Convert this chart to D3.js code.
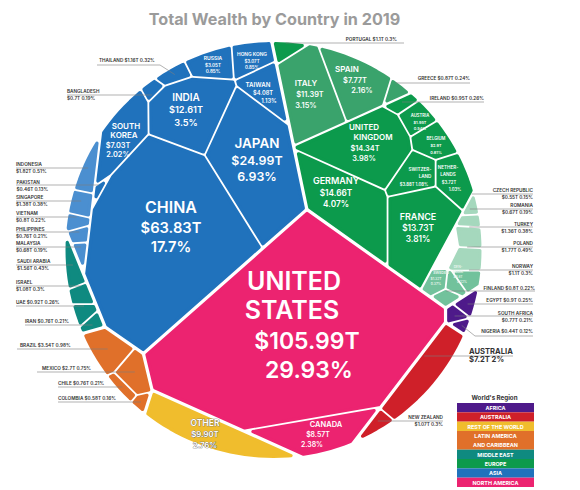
<!DOCTYPE html>
<html><head><meta charset="utf-8">
<script src="https://cdnjs.cloudflare.com/ajax/libs/d3/7.8.5/d3.min.js"></script>
<style>html,body{margin:0;background:#fff}svg{display:block;font-family:Inter,"Open Sans",sans-serif}</style>
</head><body><svg id="c" width="580" height="490"></svg>
<script>
const titleText = "Total Wealth by Country in 2019";
const regions = ["AFRICA","AUSTRALIA","REST OF THE WORLD","LATIN AMERICA|AND CARIBBEAN","MIDDLE EAST","EUROPE","ASIA","NORTH AMERICA"];
const regionColors = ["#4e1a8a","#cf2029","#f0bd2d","#e0702a","#0f8a80","#0c9a4c","#2072bc","#ec2370"];
const countries = ["United States","Canada","China","Japan","India","South Korea","Taiwan","Russia","Hong Kong","Thailand","Bangladesh","Indonesia","Pakistan","Singapore","Vietnam","Philippines","Malaysia","Saudi Arabia","Israel","UAE","Iran","Brazil","Mexico","Chile","Colombia","Other","New Zealand","Australia","Nigeria","South Africa","Egypt","Germany","United Kingdom","France","Italy","Spain","Portugal","Greece","Ireland","Austria","Belgium","Switzerland","Netherlands","Czech Republic","Romania","Turkey","Poland","Norway","Sweden","Denmark","Finland"];
const wealth = [105.99,8.57,63.83,24.99,12.61,7.03,4.08,3.05,3.07,1.16,0.7,1.82,0.46,1.38,0.8,0.76,0.68,1.56,1.08,0.92,0.76,3.54,2.7,0.76,0.58,9.9,1.07,7.2,0.44,0.77,0.9,14.66,14.34,13.73,11.39,7.77,1.1,0.87,0.95,1.95,2.9,3.88,3.72,0.55,0.67,1.36,1.77,1.1,1.32,0.8,0.8];
const regionOf = [7,7,6,6,6,6,6,6,6,6,6,6,6,6,6,6,6,4,4,4,4,3,3,3,3,2,1,1,0,0,0,5,5,5,5,5,5,5,5,5,5,5,5,5,5,5,5,5,5,5,5];
const subgroup = [0,0,0,0,0,0,0,0,0,0,0,1,0,1,1,1,1,0,0,0,0,0,0,0,0,0,0,0,0,0,0,0,0,0,2,2,2,2,0,0,0,0,0,1,1,1,1,1,1,1,1];
const shades = [7,7,6,6,6,6,6,6,6,6,6,"#4b8fd0",6,"#4b8fd0","#4b8fd0","#4b8fd0","#4b8fd0",4,4,4,4,3,3,3,3,2,1,1,0,0,0,5,5,5,"#3aa36c","#3aa36c",5,"#3aa36c",5,5,5,5,5,"#a5d8bd","#a5d8bd","#a5d8bd","#a5d8bd","#72c29c","#72c29c","#72c29c","#72c29c"];
// layout hints: power-diagram sites, same order as countries
const siteX = [290,310,152,245,184,60,290,190,262,160,140,88,98,82,78,81,82,73,83,83,92,108,135,123,141,207,382,425,461,458,468,345,372,425,312,352,285,394,405,425,437,419,450,469,470,469,468,468,440,458,450];
const siteY = [315,430,228,170,142,143,110,55,50,70,98,170,198,200,218,229,247,267,293,313,323,350,373,385,400,435,420,368,325,313,300,215,155,215,90,75,47,88,95,125,145,187,187,195,211,227,247,268,273,275,293];
const regionSiteX = [467,403,233,82,55,376,185,275];
const regionSiteY = [292,390,386,338,243,150,190,292];
const subSites = {"6-0":[190,165],"6-1":[90,153],"5-0":[385,165],"5-1":[450,200],"5-2":[340,65]};
// white pocket left empty between France and the light-green cells
const emptyPocket = {key:"5-1",x:438,y:232,v:1.3};
// inner labels: country index, lines, centre x per line, first baseline, size, line step
const inner = [
 [0,["UNITED","STATES","$105.99T","29.93%"],[294,292,307,309],290,25,29.3,"#fff"],
 [2,["CHINA","$63.83T","17.7%"],[171,171,171],213,16,19.5,"#fff"],
 [3,["JAPAN","$24.99T","6.93%"],[257,257,257],148,13.5,16.5,"#fff"],
 [4,["INDIA","$12.61T","3.5%"],[186,186,186],101,10,12.4,"#fff"],
 [5,["SOUTH","KOREA","$7.03T","2.02%"],[126,124,118,118],129,8,9.4,"#fff"],
 [6,["TAIWAN","$4.08T","1.13%"],[258,263,269],87,6.2,8,"#fff"],
 [7,["RUSSIA","$3.05T","0.85%"],[213,213,213],60,5,6.6,"#fff"],
 [8,["HONG KONG","$3.07T","0.85%"],[252,252,252],56,4.8,6.6,"#fff"],
 [34,["ITALY","$11.39T","3.15%"],[306,310,306],86,8,11,"#fff"],
 [35,["SPAIN","$7.77T","2.16%"],[347,355,362],72,8,10.5,"#fff"],
 [32,["UNITED","KINGDOM","$14.34T","3.98%"],[364,373,365,364],130,8,10.4,"#fff"],
 [31,["GERMANY","$14.66T","4.07%"],[336,336,336],184,9,11.5,"#fff"],
 [33,["FRANCE","$13.73T","3.81%"],[418,418,418],220,9,11,"#fff"],
 [39,["AUSTRIA","$1.95T","0.54%"],[420,420,420],117,4.2,6.6,"#fff"],
 [40,["BELGIUM","$2.9T","0.81%"],[436,436,436],140,4.2,7,"#fff"],
 [41,["SWITZER-","LAND","$3.88T 1.08%"],[420,425,414],171,4.6,7.3,"#fff"],
 [42,["NETHER-","LANDS","$3.72T","1.03%"],[448,448,449,455],169,4.6,7.3,"#fff"],
 [48,["SWEDEN","$1.32T","0.37%"],[441,436,436],274,3.6,5.5,"#e8f5ee"],
 [49,["DEN-","MARK","$0.8T","0.22%"],[458,458,458,462],268,3.4,5,"#e8f5ee"],
 [1,["CANADA","$8.57T","2.38%"],[326,318,312],427,7.5,10,"#fff"],
 [25,["OTHER","$9.90T","2.76%"],[205,205,205],426,8.5,11,"#fff"]
];
// outer labels: country index, lines, anchor, text x, first baseline, line start x, line y, elbow x
const outer = [
 [9,["THAILAND $1.16T  0.32%"],"start",99,62,97,65,160],
 [10,["BANGLADESH","$0.7T  0.19%"],"start",67,93,67,95],
 [11,["INDONESIA","$1.82T  0.51%"],"start",16,166,16,168],
 [12,["PAKISTAN","$0.46T  0.13%"],"start",16.5,184,16,185],
 [13,["SINGAPORE","$1.38T  0.38%"],"start",16,199,16,201],
 [14,["VIETNAM","$0.8T  0.22%"],"start",16,215,16,217],
 [15,["PHILIPPINES","$0.76T  0.21%"],"start",16,231,16,232],
 [16,["MALAYSIA","$0.68T  0.19%"],"start",16,245,16,247],
 [17,["SAUDI ARABIA","$1.56T  0.43%"],"start",17,263,16,265],
 [18,["ISRAEL","$1.08T  0.3%"],"start",16,284,16,286],
 [19,["UAE   $0.92T  0.26%"],"start",16,304,16,306],
 [20,["IRAN $0.76T  0.21%"],"start",25,323,25,325],
 [21,["BRAZIL  $3.54T  0.98%"],"start",20,347,17,349],
 [22,["MEXICO  $2.7T  0.75%"],"start",42,370,37,372],
 [23,["CHILE  $0.76T  0.21%"],"start",58,385,58,387],
 [24,["COLOMBIA  $0.58T  0.16%"],"start",58,400,58,402],
 [36,["PORTUGAL  $1.1T  0.3%"],"end",397,41,404,43],
 [37,["GREECE $0.87T  0.24%"],"end",470,80,470,83],
 [38,["IRELAND $0.95T  0.26%"],"end",484,100,484,102],
 [43,["CZECH REPUBLIC","$0.55T  0.15%"],"end",533,192,533,194],
 [44,["ROMANIA","$0.67T  0.19%"],"end",533,207,533,209],
 [45,["TURKEY","$1.36T  0.38%"],"end",533,226,533,227],
 [46,["POLAND","$1.77T  0.49%"],"end",533,245,533,247],
 [47,["NORWAY","$1.1T  0.3%"],"end",533,268,533,270],
 [50,["FINLAND  $0.8T  0.22%"],"end",535,290,535,291],
 [30,["EGYPT $0.9T  0.25%"],"end",533,302,533,304],
 [29,["SOUTH AFRICA","$0.77T  0.21%"],"end",533,315,533,316],
 [28,["NIGERIA $0.44T  0.12%"],"end",533,333,533,336,475],
 [27,["AUSTRALIA","$7.2T  2%"],"start",469,354,513,356],
 [26,["NEW ZEALAND","$1.07T  0.3%"],"end",443,419,443,421]
];

const cx=273.5, cy=250, R=208, round=1.6;
const gaps=[3.2,2.2,1.8]; // gap width at region, subgroup, country boundary
const circleP=r=>d3.range(180).map(i=>[cx+r*Math.cos(i/180*2*Math.PI),cy+r*Math.sin(i/180*2*Math.PI)]);
function clip(poly,a,b,c){
  const out=[];
  for(let i=0;i<poly.length;i++){
    const p=poly[i],q=poly[(i+1)%poly.length];
    const dp=a*p[0]+b*p[1]-c,dq=a*q[0]+b*q[1]-c;
    if(dp<=0)out.push(p);
    if((dp<0&&dq>0)||(dp>0&&dq<0)){const t=dp/(dp-dq);out.push([p[0]+t*(q[0]-p[0]),p[1]+t*(q[1]-p[1])]);}
  }
  return out;
}
const area=p=>p.length>2?Math.abs(d3.polygonArea(p)):0;
function clipAll(poly,planes,extra){
  for(const [a,b,c,g] of planes){ if(poly.length<3)break; poly=clip(poly,a,b,c-(extra+g/2)); }
  return poly;
}
function solve(base,items){
  const n=items.length; if(n===1) return [[]];
  const total=d3.sum(items,d=>d.v), A0=area(base);
  const w=new Array(n).fill(0);
  const near=items.map((d,i)=>d3.min(items.filter((_,j)=>j!==i),e=>Math.hypot(d.x-e.x,d.y-e.y))||1);
  const planes=i=>{const out=[];
    items.forEach((e,j)=>{ if(j===i)return; const d=items[i];
      const dx=e.x-d.x,dy=e.y-d.y,len=Math.hypot(dx,dy)||1;
      out.push([dx/len,dy/len,(e.x*e.x+e.y*e.y-d.x*d.x-d.y*d.y+w[i]-w[j])/(2*len)]);
    });return out;};
  const cut=i=>{let p=base;for(const [a,b,c] of planes(i)){if(p.length<3)break;p=clip(p,a,b,c);}return p;};
  for(let it=0;it<800;it++){
    const dw=items.map((d,i)=>{
      const p=cut(i),A=area(p),T=d.v/total*A0;
      return A>0?0.6*near[i]*(T-A)/Math.max(d3.polygonLength(p),1):near[i];
    });
    dw.forEach((d,i)=>w[i]+=d);
  }
  return items.map((_,i)=>planes(i));
}
const vOf=idx=>d3.sum(idx,i=>wealth[i]);
const cellPlanes=[];
const all=d3.range(countries.length);
const byRegion=Array.from(d3.group(all,i=>regionOf[i]).entries());
const pocketIn=key=>emptyPocket.key===key?emptyPocket.v:0;
const rPlanes=solve(circleP(R),byRegion.map(([r,idx])=>({x:regionSiteX[r],y:regionSiteY[r],v:vOf(idx)+(emptyPocket.key[0]==String(r)?emptyPocket.v:0)})));
byRegion.forEach(([r,rIdx],ri)=>{
  const pr=rPlanes[ri].map(q=>[...q,gaps[0]]);
  const bySub=Array.from(d3.group(rIdx,i=>subgroup[i]).entries());
  const sPlanes=solve(clipAll(circleP(R),pr,-gaps[0]/2),bySub.map(([s,idx])=>{const h=subSites[r+"-"+s]||[0,0];return {x:h[0],y:h[1],v:vOf(idx)+pocketIn(r+"-"+s)};}));
  bySub.forEach(([s,sIdx],si)=>{
    const ps=pr.concat(sPlanes[si].map(q=>[...q,gaps[1]]));
    const items=sIdx.map(i=>({x:siteX[i],y:siteY[i],v:wealth[i]}));
    if(pocketIn(r+"-"+s)) items.push({x:emptyPocket.x,y:emptyPocket.y,v:emptyPocket.v});
    const cPlanes=solve(clipAll(circleP(R),ps,-gaps[1]/2),items);
    sIdx.forEach((c,k)=>{cellPlanes[c]=ps.concat(cPlanes[k].map(q=>[...q,gaps[2]]));});
  });
});
const svg=d3.select("#c");
svg.append("text").attr("x",274.5).attr("y",25).attr("text-anchor","middle").attr("font-weight",700).attr("font-size",16.2).attr("fill","#9b9b9b").text(titleText);
const color=d=>typeof d==="string"?d:regionColors[d];
const line=d3.line();
const g=svg.append("g");
const centers=[];
all.forEach(i=>{
  let r0=round,p=[];
  for(;r0>0;r0-=0.4){ p=clipAll(circleP(R-r0),cellPlanes[i],r0); if(area(p)>wealth[i]*1.0)break; }
  if(r0<=0||p.length<3){r0=0;p=clipAll(circleP(R),cellPlanes[i],0);}
  g.append("path").attr("d",line(p)+"Z").attr("fill",color(shades[i])).attr("stroke",color(shades[i])).attr("stroke-width",2*r0).attr("stroke-linejoin","round");
  centers[i]=p.length>2?d3.polygonCentroid(p):[siteX[i],siteY[i]];
});
const lg=svg.append("g").attr("stroke","#7d7d7d").attr("stroke-width",0.6).attr("fill","none");
outer.forEach(([i,lines,anchor,x,y,lx,ly,elbow])=>{
  const c=centers[i];
  const pts=elbow?[[lx,ly],[elbow,ly],c]:[[lx,ly],[c[0],ly]];
  lg.append("path").attr("d",line(pts));
});
const tg=svg.append("g").attr("fill","#333");
outer.forEach(([i,lines,anchor,x,y])=>{
  const big=i===27;
  lines.forEach((s,k)=>tg.append("text").attr("x",x).attr("y",y+k*(big?8:6.6)).attr("text-anchor",anchor).attr("font-size",big?7.6:4.7).attr("font-weight",big?700:600).text(s));
});
const ig=svg.append("g");
inner.forEach(([i,lines,xs,y,size,step,fill])=>{
  lines.forEach((s,k)=>{
    const num=/^[$0-9]/.test(s);
    const t=ig.append("text").attr("x",xs[k]).attr("y",y+k*step).attr("text-anchor","middle").attr("font-size",num?size*0.92:size).attr("font-weight",600).attr("fill",fill).text(s);
    if(i===25)t.attr("stroke","#666").attr("stroke-width",0.7).attr("paint-order","stroke");
  });
});
const rowH=regions.map(s=>s.split("|").length);
const ls=d3.scaleLinear().domain([0,d3.sum(rowH)]).range([403,487]);
const lx=d3.scaleLinear().domain([0,1]).range([457,534]);
svg.append("text").attr("x",494.5).attr("y",400).attr("text-anchor","middle").attr("font-size",6.2).attr("font-weight",700).attr("fill","#333").text("World's Region");
let acc=0;
regions.forEach((s,i)=>{
  const parts=s.split("|");
  svg.append("rect").attr("x",lx(0)).attr("y",ls(acc)).attr("width",lx(1)-lx(0)).attr("height",ls(acc+parts.length)-ls(acc)).attr("fill",regionColors[i]);
  parts.forEach((t,k)=>svg.append("text").attr("x",(lx(0)+lx(1))/2).attr("y",ls(acc+k+0.5)+2.2).attr("text-anchor","middle").attr("font-size",5.4).attr("font-weight",700).attr("fill","#fff").text(t));
  acc+=parts.length;
});
</script></body></html>
